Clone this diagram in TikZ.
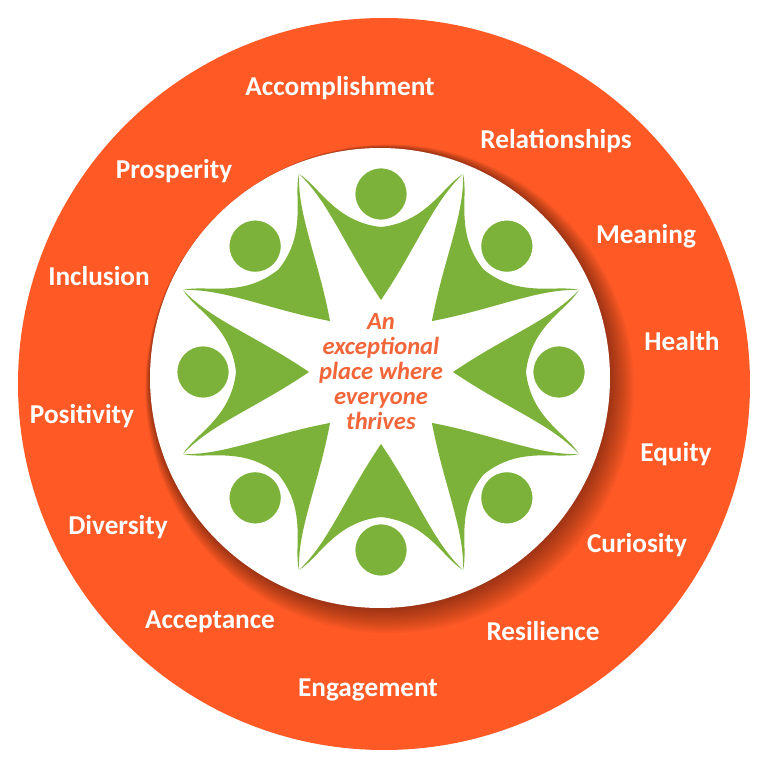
\documentclass[tikz,border=0pt]{standalone}
\usepackage{fontspec}
\setmainfont{Carlito}
\definecolor{ring}{HTML}{FF5A26}
\definecolor{grn}{HTML}{7DB23A}
\definecolor{txt}{HTML}{F2663A}
\begin{document}
\begin{tikzpicture}[x=0.02cm,y=0.02cm,
  lab/.style={text=white,font=\fontsize{15.5}{18}\selectfont\bfseries,inner sep=0pt}]
\useasboundingbox (0,0) rectangle (768,768);
\fill[white] (0,0) rectangle (768,768);
\fill[ring] (384,384) circle (366);
% shadow
\foreach \i in {1,...,12}{
  \fill[black,opacity=0.035] ({380+0.8*\i},{390-0.9*\i}) circle ({230+1.2*\i});
}
\fill[white] (380,390) circle (230);
% figures
\begin{scope}[shift={(381,396)}]
\foreach \a in {0,45,...,315}{
  \begin{scope}[rotate=\a]
    \fill[grn] (72,0) .. controls (125,36) and (170,52) .. (198,82)
      .. controls (186,62) and (150,46) .. (145,0)
      .. controls (150,-46) and (186,-62) .. (198,-82)
      .. controls (170,-52) and (125,-36) .. cycle;
    \fill[grn,draw=white,line width=1.5pt] (178,0) circle (27);
  \end{scope}
}
\end{scope}
\node[text=txt,font=\fontsize{14}{14.2}\selectfont\bfseries\itshape,align=center] (c) at (381,396) {An\\exceptional\\place where\\everyone\\thrives};
\node[lab] (l1) at (340,680) {Accomplishment};
\node[lab] (l2) at (556,627) {Relationships};
\node[lab] (l3) at (646,532) {Meaning};
\node[lab] (l4) at (682,427) {Health};
\node[lab] (l5) at (676,314) {Equity};
\node[lab] (l6) at (637,223) {Curiosity};
\node[lab] (l7) at (543,137) {Resilience};
\node[lab] (l8) at (368,78) {Engagement};
\node[lab] (l9) at (210,146) {Acceptance};
\node[lab] (l10) at (118,241) {Diversity};
\node[lab] (l11) at (82,352) {Positivity};
\node[lab] (l12) at (99,492) {Inclusion};
\node[lab] (l13) at (174,597) {Prosperity};
\end{tikzpicture}
\end{document}
